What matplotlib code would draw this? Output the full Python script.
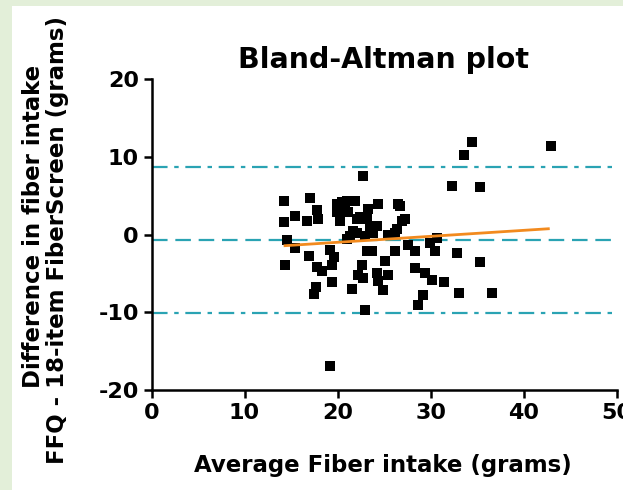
import matplotlib
matplotlib.use("Agg")
import matplotlib.pyplot as plt
from matplotlib.patches import Rectangle

# Average fiber intake (x) and difference (y)
avg_intake = [14.25, 14.25, 14.57, 14.4, 15.43, 15.43, 17.04, 16.69, 17.76, 17.9,
              16.94, 17.76, 18.3, 17.69, 17.47, 19.19, 19.62, 19.4, 19.38, 19.14,
              19.91, 20.45, 19.91, 20.8, 20.27, 20.99, 21.88, 20.99, 21.13, 22.42,
              22.06, 21.67, 21.34, 22.06, 22.77, 23.28, 24.35, 23.14, 23.49, 24.22,
              22.96, 23.82, 23.14, 23.68, 22.6, 22.2, 22.77, 24.22, 24.39, 25.46,
              25.11, 21.53, 24.92, 23.0, 26.54, 26.72, 27.26, 26.9, 26.37, 25.43,
              25.65, 26.18, 26.18, 27.58, 28.33, 28.33, 28.69, 29.19, 29.41, 30.13,
              31.45, 29.95, 30.48, 30.67, 32.82, 32.28, 35.32, 33.63, 34.43, 35.32,
              33.06, 36.58, 42.96]
difference = [4.3, 1.55, -0.65, -3.95, 2.33, -1.72, 4.66, 1.72, 3.1, 1.94,
              -2.81, -4.2, -4.75, -6.69, -7.63, -1.94, -2.85, -3.95, -6.14, -16.88,
              3.88, 4.14, 2.85, 3.01, 1.72, -0.56, 4.31, 4.31, 2.85, 2.2,
              1.94, 0.43, -0.22, 0.22, 7.46, 3.23, 3.88, 1.94, 0.65, 1.07,
              -0.22, 0.22, -2.16, -2.16, -3.88, -5.17, -5.6, -4.95, -6.04, -5.17,
              -3.45, -7.05, -7.12, -9.7, 3.88, 3.66, 1.94, 1.72, 0.65, 0.0,
              0.0, 0.22, -2.16, -1.29, -2.16, -4.31, -9.06, -7.76, -4.95, -5.89,
              -6.14, -1.07, -2.16, -0.43, -2.37, 6.21, 6.17, 10.22, 11.86, -3.58,
              -7.47, -7.54, 11.35]

bias = -0.7
upper_loa = 8.7
lower_loa = -10.1
reg_x = [14.2, 42.8]
reg_y = [-1.45, 0.75]

x_ticks = [0, 10, 20, 30, 40, 50]
y_ticks = [-20, -10, 0, 10, 20]

plt.rcParams['font.family'] = ['DejaVu Sans']
plt.rcParams['font.weight'] = 'bold'
plt.rcParams['axes.unicode_minus'] = False

fig = plt.figure(figsize=(6.23, 4.9), dpi=100)
fig.patch.set_facecolor('#e3efd9')
fig.patches.append(Rectangle((12/623, 0), 1, 1 - 6/490, transform=fig.transFigure,
                             facecolor='white', edgecolor='none', zorder=-10))

ax = fig.add_axes([151.5/623, 1 - 390/490, (616.7 - 151.5)/623, (390 - 79)/490])
ax.set_zorder(5)
ax.set_facecolor('none')

teal = '#2aa3b3'
ax.axhline(upper_loa, color=teal, lw=1.6, dashes=(7, 3, 2, 3), zorder=1)
ax.axhline(lower_loa, color=teal, lw=1.6, dashes=(7, 3, 2, 3), zorder=1)
ax.axhline(bias, color=teal, lw=1.6, dashes=(7, 3.5), zorder=1)

ax.scatter(avg_intake, difference, marker='s', s=44, color='black', zorder=3, linewidths=0)
ax.plot(reg_x, reg_y, color='#f28a1e', lw=2, zorder=4, solid_capstyle='butt')

ax.set_xlim(0, 50)
ax.set_ylim(-20, 20)
ax.set_xticks(x_ticks)
ax.set_yticks(y_ticks)
for s in ['top', 'right']:
    ax.spines[s].set_visible(False)
for s in ['left', 'bottom']:
    ax.spines[s].set_linewidth(1.8)
ax.tick_params(axis='both', which='major', length=6, width=1.8, labelsize=16, pad=3)
for lab in ax.get_xticklabels() + ax.get_yticklabels():
    lab.set_fontweight('bold')

fig.text(384/623, 1 - 60/490, 'Bland-Altman plot', ha='center', va='center',
         fontsize=20.5, fontweight='bold')
fig.text(383/623, 1 - 465/490, 'Average Fiber intake (grams)', ha='center', va='center',
         fontsize=16.5, fontweight='bold')
fig.text(34/623, 1 - 226/490, 'Difference in fiber intake', ha='center', va='center',
         rotation=90, fontsize=16.5, fontweight='bold')
fig.text(58/623, 1 - 240/490, 'FFQ - 18-item FiberScreen (grams)', ha='center', va='center',
         rotation=90, fontsize=16.5, fontweight='bold')

fig.savefig('out.png', dpi=100)
